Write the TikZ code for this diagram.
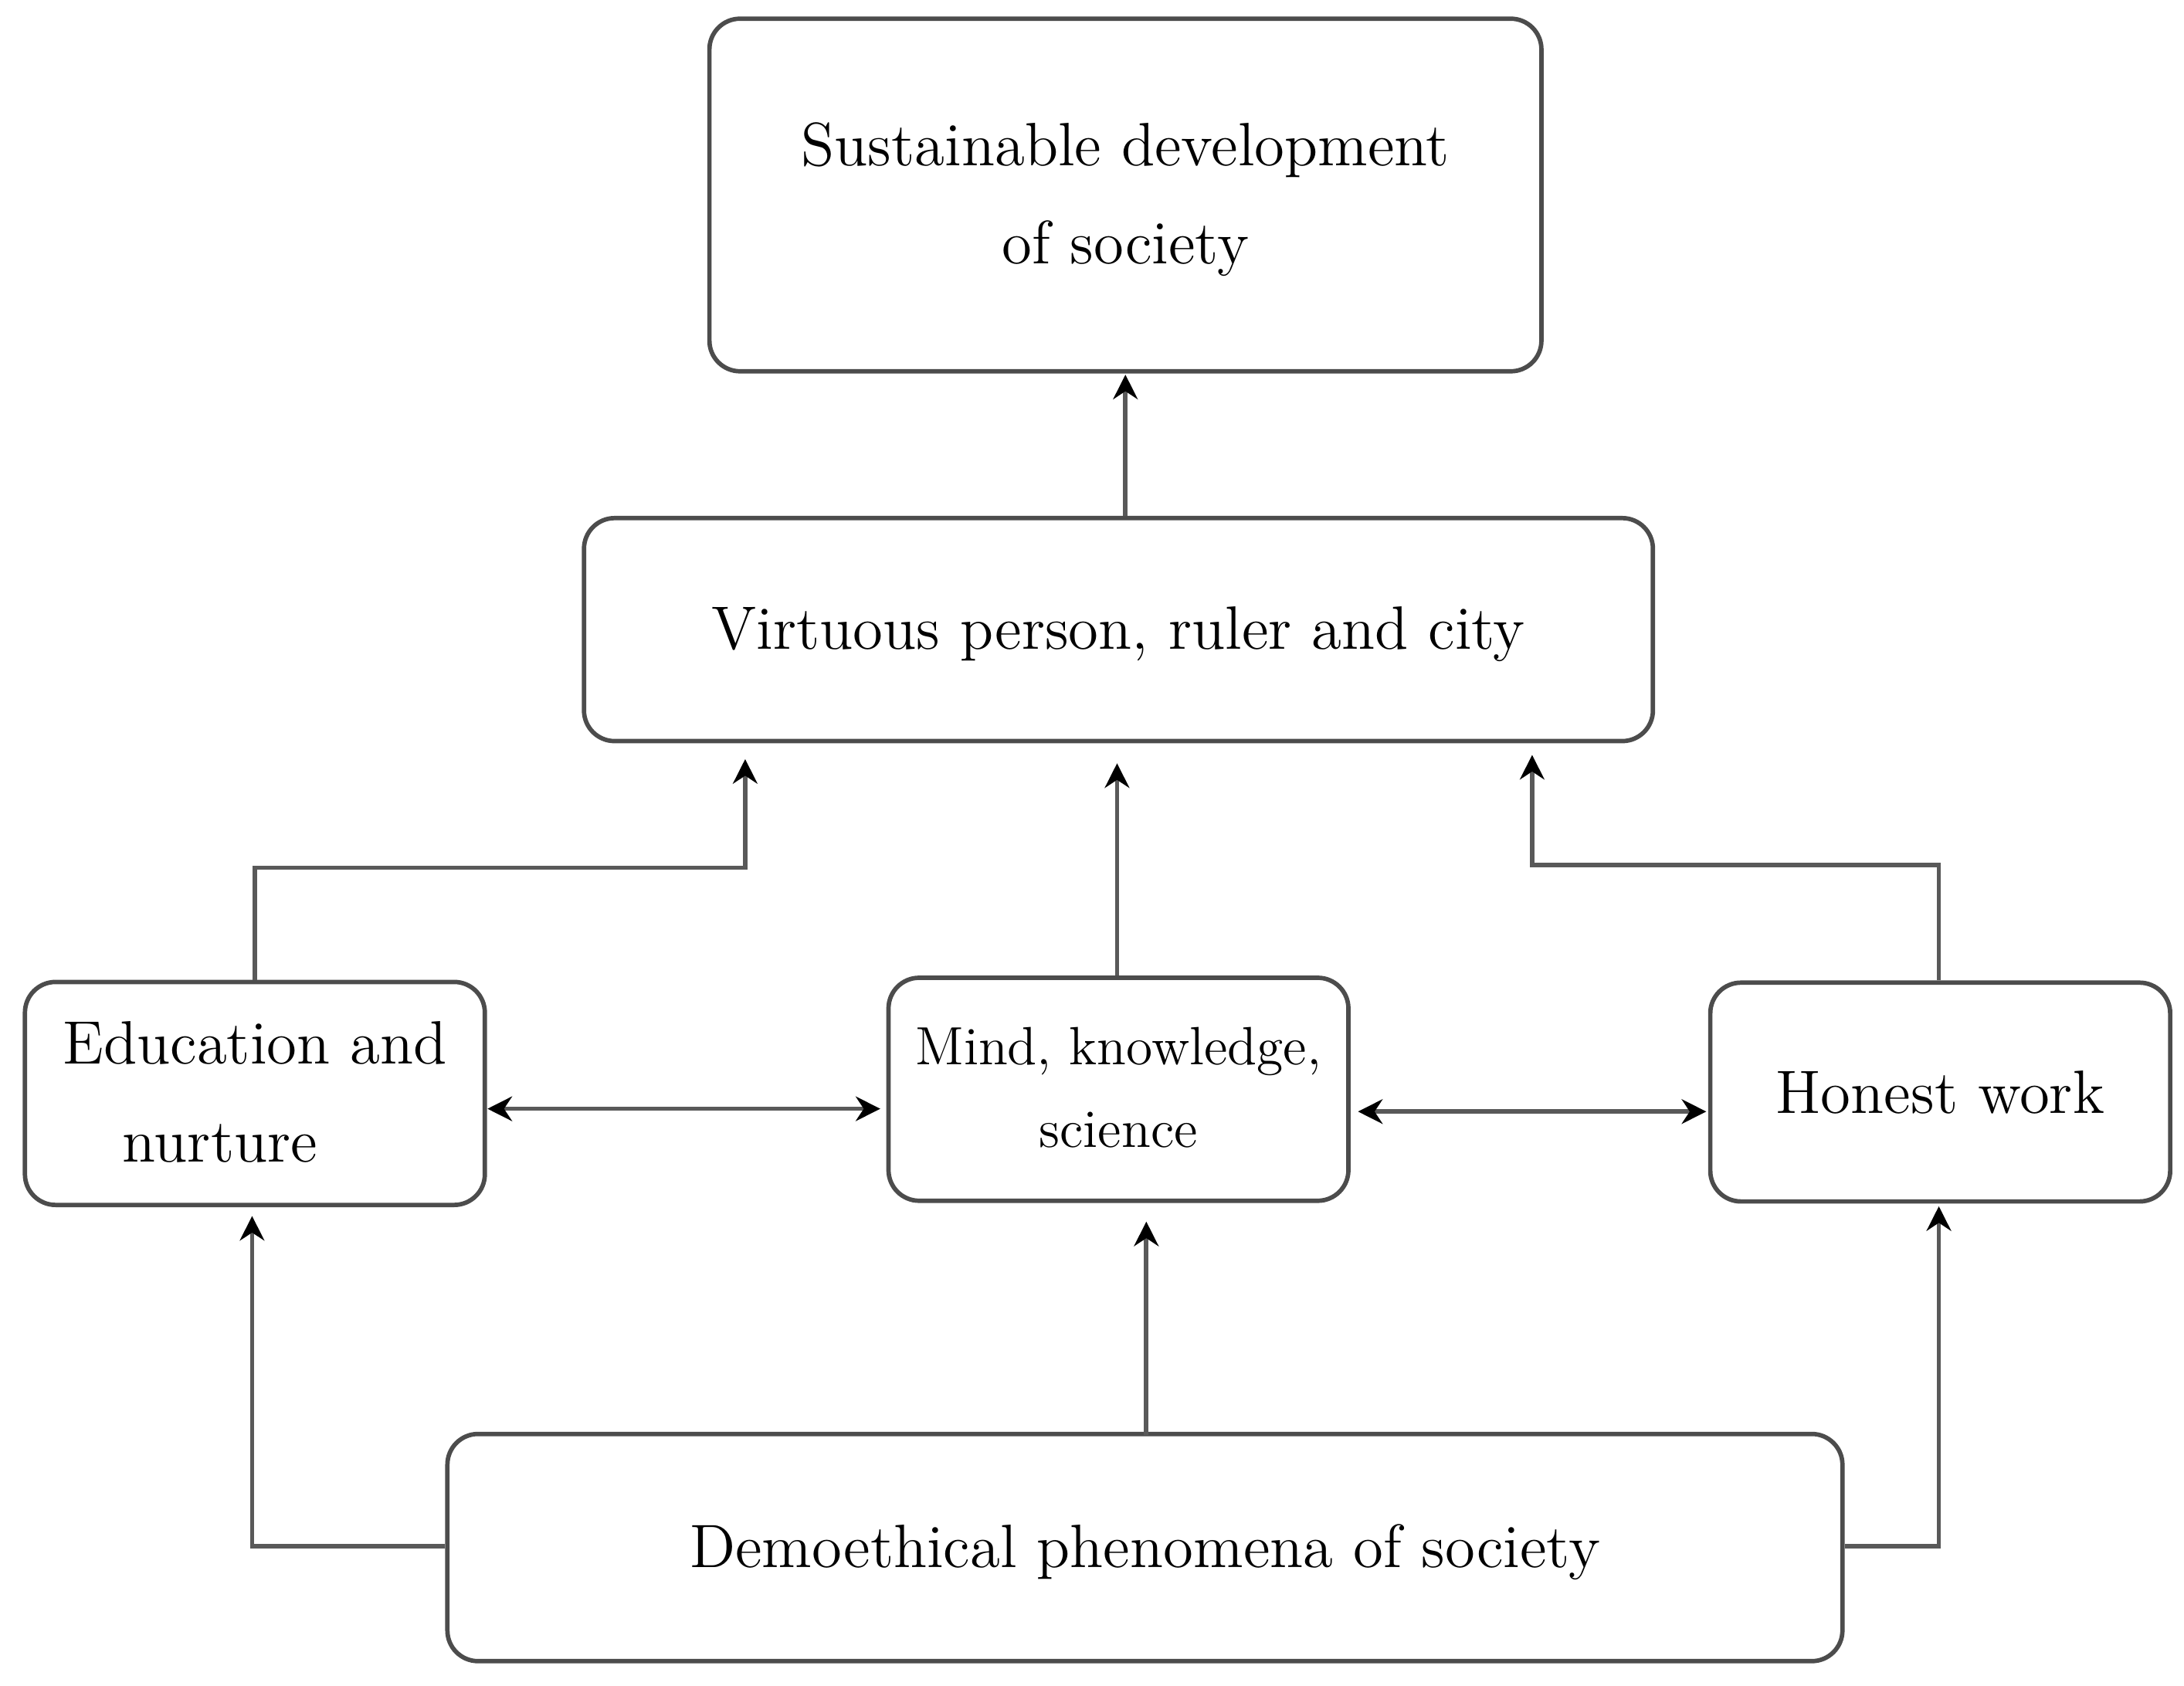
\documentclass[tikz,border=0pt]{standalone}
\usetikzlibrary{arrows.meta}
\newcommand{\lowr}[2]{\raisebox{-#1}{\begin{tabular}{@{}c@{}}#2\end{tabular}}}
\begin{document}
\begin{tikzpicture}[x=0.01cm,y=-0.01cm,
  box/.style={draw=black!70,line width=0.9pt,rounded corners=0.22cm,inner sep=0pt,align=center,font=\fontsize{12.5}{20}\selectfont},
  con/.style={draw=black!65,line width=0.9pt,-{Stealth[length=5pt,width=5pt,black]}},
  dcon/.style={draw=black!65,line width=0.9pt,{Stealth[length=5pt,width=5pt,black]}-{Stealth[length=5pt,width=5pt,black]}}]
\useasboundingbox (0,0) rectangle (1568,1210);
\node[box,minimum width=5.97cm,minimum height=2.53cm] (top) at (808,140) {\lowr{0.18cm}{Sustainable development\\of society}};
\node[box,minimum width=7.67cm,minimum height=1.60cm] (vir) at (803,452) {\lowr{0.16cm}{Virtuous person, ruler and city}};
\node[box,minimum width=3.30cm,minimum height=1.60cm] (edu) at (183,785) {\lowr{0.0cm}{Education and\\\hspace*{-0.5cm}nurture}};
\node[box,minimum width=3.30cm,minimum height=1.60cm,font=\fontsize{11}{17}\selectfont] (mind) at (803,782) {\lowr{0.0cm}{Mind, knowledge,\\science}};
\node[box,minimum width=3.30cm,minimum height=1.57cm] (hon) at (1393,784) {Honest work};
\node[box,minimum width=10.01cm,minimum height=1.63cm] (dem) at (822,1111) {\lowr{0.2cm}{Demoethical phenomena of society}};
\coordinate (v1) at (535,545);
\coordinate (v2) at (802,548);
\coordinate (v3) at (1100,542);
\coordinate (t1) at (808,269);
\draw[con] (vir.north -| t1) -- (t1);
\draw[con] (edu.north) |- (535,623) -- (v1);
\draw[con] (mind.north -| v2) -- (v2);
\draw[con] (hon.north -| 1392,0) |- (1100,621) -- (v3);
\draw[dcon] (350,796) -- (632,796);
\draw[dcon] (975,798) -- (1225,798);
\draw[con] (dem.west |- 0,1110) -| (181,873);
\draw[con] (823,1030) -- (823,877);
\draw[con] (dem.east |- 0,1110) -| (1392,866);
\end{tikzpicture}
\end{document}
